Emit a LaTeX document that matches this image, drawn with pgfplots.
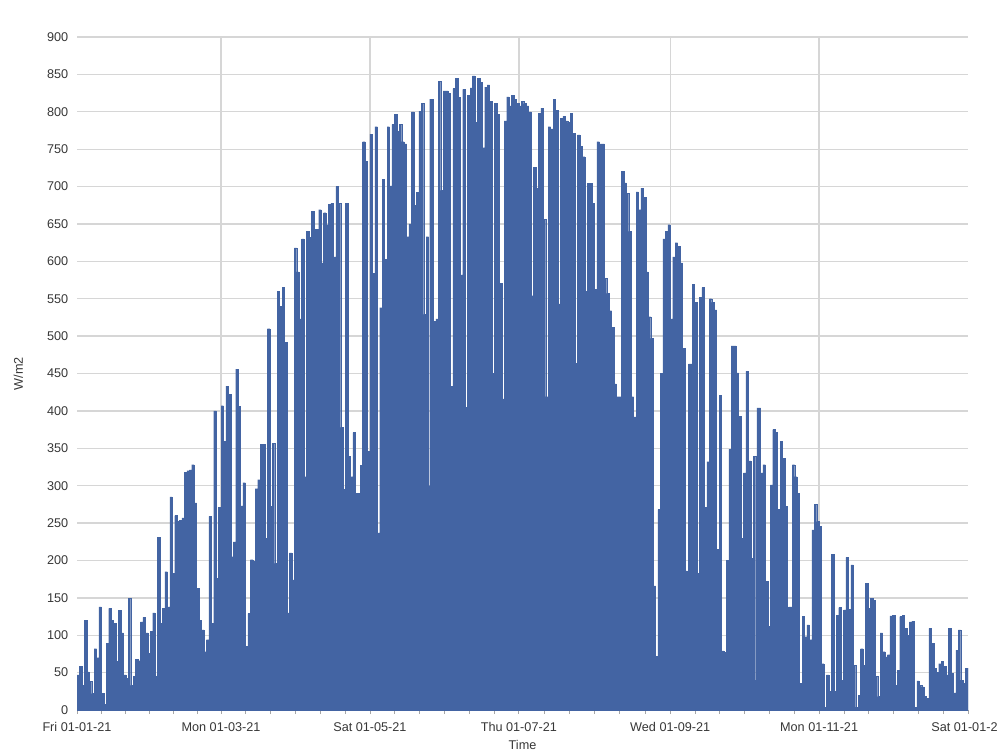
\documentclass[border=0pt]{standalone}
\usepackage{fontspec}
\setmainfont{Liberation Sans}
\usepackage{pgfplots}
\pgfplotsset{compat=1.18}
\definecolor{barblue}{RGB}{67,100,163}
\definecolor{gridgray}{RGB}{214,214,214}
\definecolor{labgray}{RGB}{55,55,55}
\begin{document}
\begin{tikzpicture}
\useasboundingbox (-57.75pt,-32.25pt) rectangle (690.75pt,532.5pt);
\begin{axis}[
  scale only axis,
  width=668.25pt, height=504.75pt,
  xmin=0, xmax=365, ymin=0, ymax=900,
  axis x line*=bottom, axis y line*=left,
  x axis line style={draw=gray!70, line width=0.6pt},
  y axis line style={draw=none},
  ytick={0,50,...,900},
  ytick style={draw=none},
  xtick={59,120,181,243,304},
  xticklabels={Mon 01-03-21, Sat 01-05-21, Thu 01-07-21, Wed 01-09-21, Mon 01-11-21},
  extra x ticks={0,365},
  extra x tick labels={Fri 01-01-21, Sat 01-01-22},
  extra x tick style={grid=none},
  minor xtick={9.83,19.67,29.5,39.33,49.17,69.17,79.33,89.5,99.67,109.83,130.17,140.33,150.5,160.67,170.83,191.33,201.67,212,222.33,232.67,253.17,263.33,273.5,283.67,293.83,314.17,324.33,334.5,344.67,354.83},
  tick align=outside,
  major tick length=3pt, minor tick length=3pt,
  xtick style={draw=gray!70, line width=0.6pt},
  minor tick style={draw=gray!70, line width=0.6pt},
  grid=major,
  major grid style={draw=gridgray, line width=1pt},
  /pgf/number format/assume math mode=true,
  tick label style={font=\fontsize{9.5}{11}\selectfont, text=labgray},
  xticklabel style={yshift=-3pt},
  every axis x label/.style={at={(rel axis cs:0.5,0)}, yshift=-26pt, anchor=center, font=\fontsize{9.5}{11}\selectfont, text=labgray},
  every axis y label/.style={at={(rel axis cs:0,0.5)}, xshift=-44pt, rotate=90, anchor=center, font=\fontsize{9.5}{11}\selectfont, text=labgray},
  xlabel={Time}, ylabel={W/m2},
]
\addplot[const plot mark left, fill=barblue, draw=barblue, line width=0.2pt] coordinates {
(0,47)(1,58)(2,33)(3,120)(4,51)(5,38)(6,22)(7,82)(8,70)(9,138)
(10,22)(11,8)(12,89)(13,136)(14,120)(15,116)(16,65)(17,133)(18,103)(19,47)
(20,42)(21,149)(22,33)(23,45)(24,68)(25,66)(26,118)(27,124)(28,103)(29,76)
(30,105)(31,130)(32,45)(33,231)(34,116)(35,136)(36,185)(37,138)(38,285)(39,183)
(40,260)(41,252)(42,254)(43,257)(44,318)(45,320)(46,321)(47,328)(48,277)(49,163)
(50,120)(51,107)(52,78)(53,94)(54,259)(55,116)(56,400)(57,176)(58,271)(59,407)
(60,359)(61,433)(62,422)(63,205)(64,225)(65,456)(66,406)(67,273)(68,304)(69,85)
(70,129)(71,201)(72,199)(73,296)(74,308)(75,355)(76,355)(77,230)(78,510)(79,272)
(80,357)(81,196)(82,560)(83,540)(84,565)(85,492)(86,130)(87,210)(88,174)(89,618)
(90,586)(91,523)(92,630)(93,312)(94,640)(95,632)(96,667)(97,118)(97.5,643)(98,643)(99,669)
(100,598)(101,665)(102,649)(103,676)(104,678)(105,606)(106,700)(107,678)(108,378)(109,295)
(110,678)(111,339)(112,312)(113,371)(114,94)(114.5,290)(115,290)(116,327)(117,760)(118,734)(119,346)
(120,770)(121,584)(122,780)(123,237)(124,538)(125,710)(126,603)(127,780)(128,701)(129,783)
(130,797)(131,774)(132,783)(133,760)(134,757)(135,633)(136,650)(137,800)(138,675)(139,692)
(140,801)(141,811)(142,529)(143,633)(144,300)(144.5,817)(145,817)(146,520)(147,523)(148,841)(149,695)
(150,828)(151,828)(152,825)(153,433)(154,831)(155,845)(156,819)(157,582)(158,830)(159,405)
(160,822)(161,832)(162,848)(163,786)(164,845)(165,839)(166,752)(167,833)(168,836)(169,814)
(170,450)(171,811)(172,797)(173,571)(174,416)(175,788)(176,820)(177,808)(178,822)(179,817)
(180,811)(181,808)(182,814)(183,811)(184,808)(185,800)(186,554)(187,726)(188,698)(189,798)
(190,805)(191,656)(192,419)(193,780)(194,777)(195,817)(196,802)(197,543)(198,791)(199,794)
(200,788)(201,786)(202,798)(203,771)(204,464)(205,769)(206,754)(207,740)(208,560)(209,704)
(210,704)(211,678)(212,563)(213,760)(214,757)(215,757)(216,577)(217,557)(218,534)(219,512)
(220,436)(221,419)(222,419)(223,720)(224,705)(225,691)(226,640)(227,419)(228,392)(229,693)
(230,669)(231,698)(232,686)(233,586)(234,526)(235,497)(236,166)(237,72)(238,268)(239,450)
(240,630)(241,640)(242,649)(243,523)(244,606)(245,625)(246,620)(247,598)(248,484)(249,186)
(250,50)(250.5,463)(251,463)(252,569)(253,545)(254,183)(255,552)(256,565)(257,271)(258,332)(259,550)
(260,545)(261,535)(262,215)(263,421)(264,79)(265,77)(266,200)(267,349)(268,487)(269,487)
(270,451)(271,393)(272,230)(273,317)(274,453)(275,333)(276,203)(277,339)(278,40)(278.5,404)(279,404)
(280,317)(281,328)(282,172)(283,112)(284,301)(285,375)(286,371)(287,268)(288,359)(289,337)
(290,272)(291,9)(291.5,138)(292,138)(293,328)(294,312)(295,290)(296,36)(297,125)(298,98)(299,114)
(300,94)(301,241)(302,275)(303,252)(304,246)(305,62)(306,4)(307,47)(308,25)(309,208)
(310,25)(311,127)(312,137)(313,40)(314,134)(315,204)(316,135)(317,194)(318,60)(319,4)
(320,20)(321,82)(322,60)(323,169)(324,136)(325,149)(326,147)(327,45)(328,18)(329,103)
(330,78)(331,71)(332,74)(333,126)(334,127)(335,33)(336,53)(337,125)(338,127)(339,109)
(340,100)(341,118)(342,119)(343,4)(344,39)(345,33)(346,31)(347,18)(348,16)(349,109)
(350,89)(351,56)(352,50)(353,62)(354,65)(355,58)(356,47)(357,109)(358,49)(359,23)
(360,80)(361,107)(362,40)(363,36)(364,56)(365,56)
} \closedcycle;
\end{axis}
\end{tikzpicture}
\end{document}
